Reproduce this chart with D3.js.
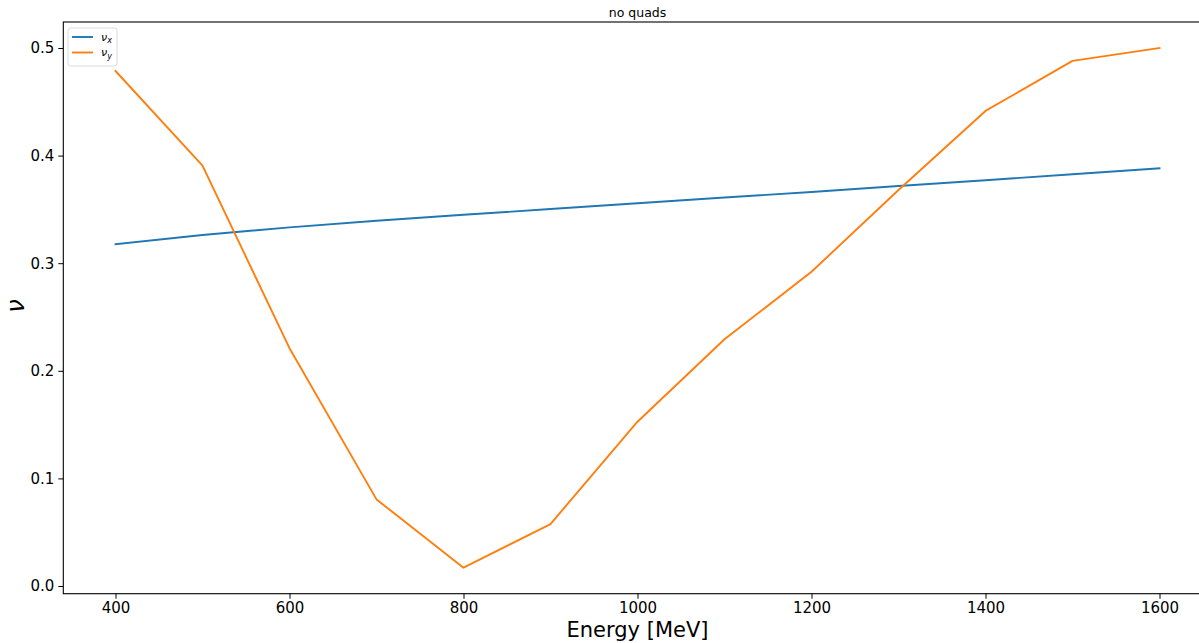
<!DOCTYPE html>
<html>
<head>
<meta charset="utf-8">
<script src="https://cdn.jsdelivr.net/npm/d3@7"></script>
<style>
  body { margin: 0; background: #fff; }
  svg { display: block; font-family: "DejaVu Sans", sans-serif; }
</style>
</head>
<body>
<svg id="chart" width="1199" height="643"></svg>
<script>
const energy = [400, 500, 600, 700, 800, 900, 1000, 1100, 1200, 1300, 1400, 1500, 1600];
const nuX = [0.3176, 0.3262, 0.3333, 0.3395, 0.3450, 0.3503, 0.3557, 0.3610, 0.3662, 0.3718, 0.3771, 0.3826, 0.3882];
const nuY = [0.4786, 0.3906, 0.2210, 0.0805, 0.0170, 0.0576, 0.1527, 0.2293, 0.2920, 0.3680, 0.4415, 0.4880, 0.5000];
const xTicks = [400, 600, 800, 1000, 1200, 1400, 1600];
const yTicks = [0.0, 0.1, 0.2, 0.3, 0.4, 0.5];
const seriesNames = ["x", "y"];
const seriesColors = ["#1f77b4", "#ff7f0e"];

const svg = d3.select("#chart");
const mLeft = 63.3, mRight = 1211.7, mTop = 22, mBottom = 593.7;

const xMin = d3.min(energy), xMax = d3.max(energy);
const xPad = (xMax - xMin) * 0.05;
const allY = nuX.concat(nuY);
const yMin = d3.min(allY), yMax = d3.max(allY);
const yPad = (yMax - yMin) * 0.05;

const x = d3.scaleLinear().domain([xMin - xPad, xMax + xPad]).range([mLeft, mRight]);
const y = d3.scaleLinear().domain([yMin - yPad, yMax + yPad]).range([mBottom, mTop]);

svg.append("defs").append("clipPath").attr("id", "clip")
  .append("rect").attr("x", mLeft).attr("y", mTop).attr("width", mRight - mLeft).attr("height", mBottom - mTop);

const line = d3.line().x((d, i) => x(energy[i])).y(d => y(d));
[nuX, nuY].forEach((s, k) => {
  svg.append("path").datum(s)
    .attr("clip-path", "url(#clip)")
    .attr("fill", "none")
    .attr("stroke", seriesColors[k])
    .attr("stroke-width", 1.9)
    .attr("stroke-linejoin", "round")
    .attr("stroke-linecap", "square")
    .attr("d", line);
});

const xAxis = d3.axisBottom(x).tickValues(xTicks).tickSize(5).tickPadding(4).tickFormat(d3.format("d"));
const gx = svg.append("g").attr("transform", `translate(0,${mBottom})`).call(xAxis);
gx.select(".domain").remove();
gx.selectAll("text").attr("font-size", 15).attr("fill", "#000").attr("font-family", "DejaVu Sans");
gx.selectAll("line").attr("stroke", "#000");

const yAxis = d3.axisLeft(y).tickValues(yTicks).tickSize(5).tickPadding(4).tickFormat(d3.format(".1f"));
const gy = svg.append("g").attr("transform", `translate(${mLeft},0)`).call(yAxis);
gy.select(".domain").remove();
gy.selectAll("text").attr("font-size", 15).attr("fill", "#000").attr("font-family", "DejaVu Sans");
gy.selectAll("line").attr("stroke", "#000");

svg.append("rect").attr("x", mLeft).attr("y", mTop).attr("width", mRight - mLeft).attr("height", mBottom - mTop)
  .attr("fill", "none").attr("stroke", "#000").attr("stroke-width", 1.1);

svg.append("text").attr("x", (mLeft + mRight) / 2).attr("y", 17).attr("text-anchor", "middle")
  .attr("font-size", 12.5).attr("fill", "#000").text("no quads");

svg.append("text").attr("x", (mLeft + mRight) / 2).attr("y", 637).attr("text-anchor", "middle")
  .attr("font-size", 21).attr("fill", "#000").text("Energy [MeV]");

svg.append("text").attr("transform", "translate(24,306) rotate(-90)").attr("text-anchor", "middle")
  .attr("font-size", 24).attr("font-style", "italic").attr("fill", "#000").text("ν");

const lg = svg.append("g").attr("transform", "translate(68,28)");
lg.append("rect").attr("x", 0).attr("y", 0).attr("width", 49).attr("height", 38).attr("rx", 2.5)
  .attr("fill", "#fff").attr("fill-opacity", 0.8).attr("stroke", "#d9d9d9");
seriesNames.forEach((n, i) => {
  const yy = 9 + i * 15.5;
  lg.append("line").attr("x1", 4).attr("x2", 25).attr("y1", yy).attr("y2", yy)
    .attr("stroke", seriesColors[i]).attr("stroke-width", 1.9);
  const t = lg.append("text").attr("x", 33).attr("y", yy + 3.5).attr("font-size", 11).attr("fill", "#000")
    .attr("font-style", "italic");
  t.append("tspan").text("ν");
  t.append("tspan").attr("font-size", 8).attr("dy", 2.5).text(n);
});
</script>
</body>
</html>
